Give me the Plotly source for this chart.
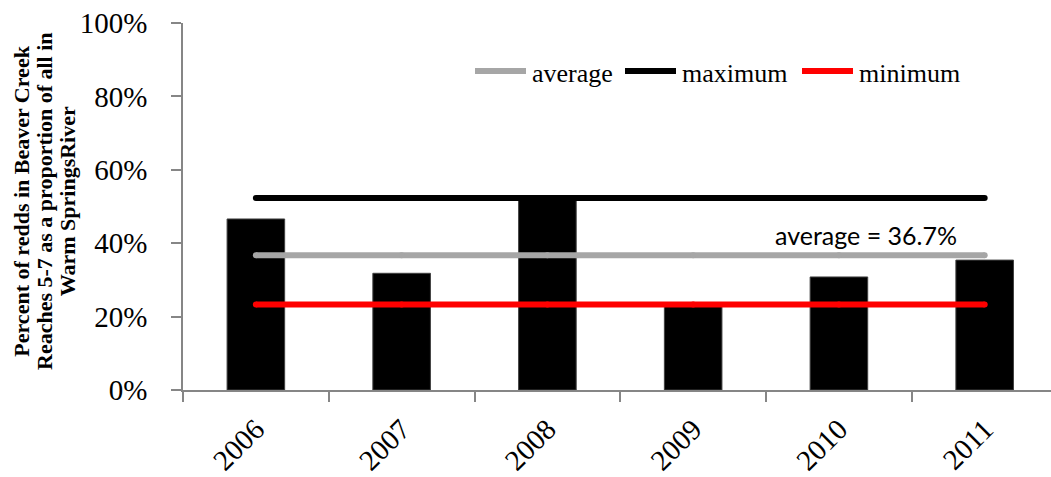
import plotly.graph_objects as go

# Share of redds in Beaver Creek reaches 5-7, by year
years = ["2006", "2007", "2008", "2009", "2010", "2011"]
share = [0.466, 0.318, 0.523, 0.233, 0.308, 0.354]

title_lines = [
    "Percent of redds in Beaver Creek",
    "Reaches 5-7 as a proportion of all in",
    "Warm SpringsRiver",
]

avg_val = sum(share) / len(share)
ref_names = ["average", "maximum", "minimum"]
ref_values = [avg_val, max(share), min(share)]
ref_colors = ["#a6a6a6", "#000000", "#ff0000"]

W, H = 1051, 477
ML, MR, MT, MB = 183, 0, 23, 87
PW, PH = W - ML - MR, H - MT - MB
AXIS = "#868686"
SERIF = "Liberation Serif"


def px_x(px):
    return (px - ML) / PW


def px_y(py):
    return (H - MB - py) / PH


fig = go.Figure()
fig.add_trace(go.Bar(
    x=years, y=share, width=0.395,
    marker=dict(color="#000000", line=dict(color="#404040", width=1)),
    showlegend=False, hoverinfo="x+y",
))

for name, val, col in zip(ref_names, ref_values, ref_colors):
    fig.add_trace(go.Scatter(
        x=years, y=[val] * len(years), name=name, mode="lines+markers",
        line=dict(color=col, width=6),
        marker=dict(color=col, size=6),
        showlegend=False,
    ))

# legend row drawn above the bars
legend_left = [473, 623, 800]
legend_y = 71
sample_len = 55
shapes, annotations = [], []
for name, col, lx in zip(ref_names, ref_colors, legend_left):
    shapes.append(dict(
        type="line", xref="paper", yref="paper",
        x0=px_x(lx + 2), x1=px_x(lx + sample_len - 2),
        y0=px_y(legend_y), y1=px_y(legend_y),
        line=dict(color=col, width=6),
    ))
    annotations.append(dict(
        xref="paper", yref="paper", x=px_x(lx + sample_len + 2), y=px_y(legend_y + 2),
        xanchor="left", yanchor="middle", text=name, showarrow=False,
        font=dict(family=SERIF, size=26, color="#000000"),
    ))

annotations.append(dict(
    xref="x", yref="y", x=4.187, y=avg_val, yshift=20,
    xanchor="center", yanchor="middle",
    text=f"average = {avg_val * 100:.1f}%", showarrow=False,
    font=dict(family="Lato", size=25, color="#000000"),
))

for line, cx in zip(title_lines, [21.7, 45.0, 68.3]):
    annotations.append(dict(
        xref="paper", yref="paper", x=px_x(cx), y=px_y(201),
        xanchor="center", yanchor="middle", textangle=-90,
        text=f"<b>{line}</b>", showarrow=False,
        font=dict(family=SERIF, size=22, color="#000000"),
    ))

fig.update_layout(
    width=W, height=H,
    margin=dict(l=ML, r=MR, t=MT, b=MB),
    paper_bgcolor="#ffffff", plot_bgcolor="#ffffff",
    shapes=shapes, annotations=annotations,
    bargap=0.6,
)
fig.update_xaxes(
    type="category", range=[-0.5, 5.455], automargin=False,
    tickson="boundaries", ticks="outside", ticklen=10, tickcolor=AXIS, tickwidth=1.5,
    showline=True, linecolor=AXIS, linewidth=1.5, showgrid=False,
    tickangle=-45, ticklabelposition="outside", ticklabelstandoff=9,
    tickfont=dict(family=SERIF, size=29, color="#000000"),
)
fig.update_yaxes(
    range=[0, 1], dtick=0.2, tickformat=".0%", automargin=False,
    ticks="outside", ticklen=10, tickcolor=AXIS, tickwidth=1.5,
    showline=True, linecolor=AXIS, linewidth=1.5, showgrid=False, zeroline=False,
    ticklabelstandoff=18,
    tickfont=dict(family=SERIF, size=29, color="#000000"),
)

fig.write_html("out.html")
